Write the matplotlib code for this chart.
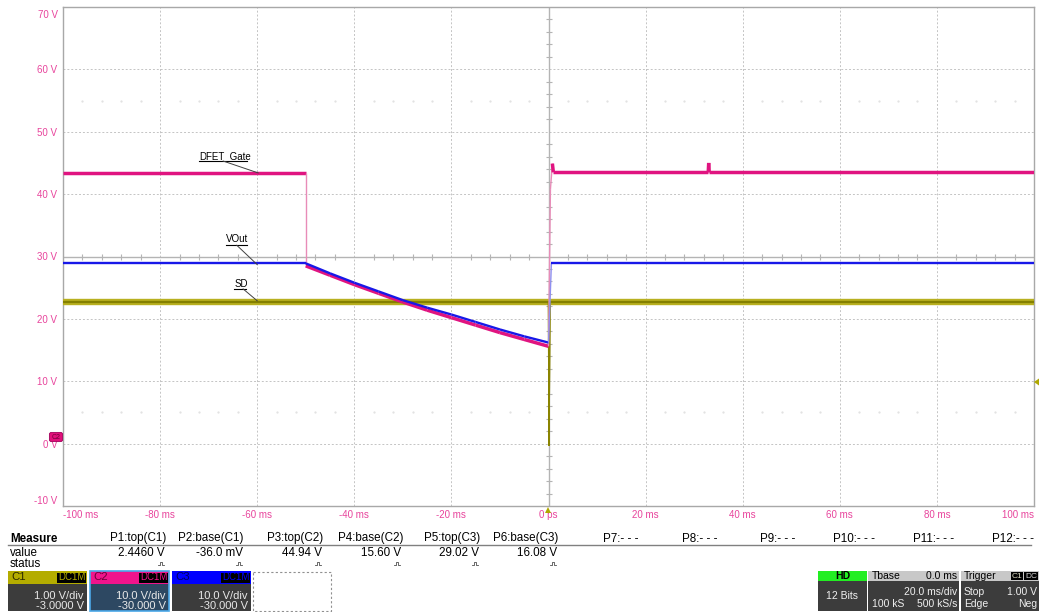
import matplotlib
matplotlib.use("Agg")
import matplotlib.pyplot as plt
from matplotlib.patches import Rectangle, Polygon, FancyBboxPatch
from matplotlib.collections import LineCollection
import numpy as np

plt.rcParams['font.family'] = ['Liberation Sans', 'DejaVu Sans']

# --- traces (time in ms, volts) ---
gate_t = [-100, -50, -50, -45, -40, -35, -30, -25, -20, -15, -10, -5, 0, 0.4, 0.8, 1.0, 32.9, 33.0, 33.1, 100]
gate_v = [43.4, 43.4, 28.5, 27.0, 25.5, 24.1, 22.7, 21.4, 20.2, 19.0, 17.8, 16.7, 15.6, 40.8, 44.9, 43.5, 43.5, 45.0, 43.5, 43.5]

vout_t = [-100, -50, -45, -40, -35, -30, -25, -20, -15, -10, -5, 0, 0.6, 100]
vout_v = [28.9, 28.9, 27.3, 25.8, 24.4, 23.0, 21.8, 20.7, 19.5, 18.3, 17.2, 16.2, 28.9, 28.9]

sd_t = [-100, 0, 0.1, 0.3, 100]
sd_v = [2.27, 2.27, -0.036, 2.27, 2.27]

# channel settings: volts/div, offset
ch_scale = {"C1": (1.0, -3.0), "C2": (10.0, -30.0), "C3": (10.0, -30.0)}

x_ticks = list(range(-100, 101, 20))
x_labels = ["%d ms" % t for t in x_ticks]
x_labels[5] = "0 ps"
y_ticks = list(range(-10, 71, 10))
y_labels = ["%d V" % v for v in y_ticks]

meas_names = ["P1:top(C1)", "P2:base(C1)", "P3:top(C2)", "P4:base(C2)", "P5:top(C3)", "P6:base(C3)"]
meas_values = ["2.4460 V", "-36.0 mV", "44.94 V", "15.60 V", "29.02 V", "16.08 V"]
empty_names = ["P7:- - -", "P8:- - -", "P9:- - -", "P10:- - -", "P11:- - -", "P12:- - -"]

channels = ["C1", "C2", "C3"]
ch_vdiv = ["1.00 V/div", "10.0 V/div", "10.0 V/div"]
ch_offset = ["-3.0000 V", "-30.000 V", "-30.000 V"]

LABEL_PINK = "#e8449c"
W, H = 1039, 612


def to_screen(ch, volts):
    # map channel volts onto the C2 labelled grid
    vdiv, off = ch_scale[ch]
    return [30 + 10 * (v + off) / vdiv for v in volts]


def trace(ax, t, v, color, lw, edge_color, z):
    pts = np.column_stack([t, v])
    segs = [pts[i:i + 2] for i in range(len(pts) - 1)]
    widths, colors = [], []
    for s in segs:
        fast = abs(s[1, 0] - s[0, 0]) < 1.5 and abs(s[1, 1] - s[0, 1]) > 3
        widths.append(1.0 if fast else lw)
        colors.append(edge_color if fast else color)
    ax.add_collection(LineCollection(segs, linewidths=widths, colors=colors,
                                     zorder=z, capstyle='butt', joinstyle='miter'))


fig = plt.figure(figsize=(W / 100, H / 100), dpi=100)
ax = fig.add_axes([63 / W, 106 / H, 971 / W, 499 / H])
ax.set_xlim(-100, 100)
ax.set_ylim(-10, 70)

ax.set_xticks(x_ticks)
ax.set_xticklabels(x_labels)
ax.set_yticks(y_ticks)
ax.set_yticklabels(y_labels[:-1] + [""])
ax.tick_params(length=0, labelsize=7, labelcolor=LABEL_PINK)
ax.tick_params(axis='x', pad=3)
ax.tick_params(axis='y', pad=4)
xl = ax.get_xticklabels()
xl[0].set_ha('left')
xl[-1].set_ha('right')
ax.get_yticklabels()[0].set_va('bottom')

for s in ax.spines.values():
    s.set_color('#a8a8a8')
    s.set_linewidth(1)

ax.grid(True, color='#c4c4c4', linestyle=(0, (2, 2)), linewidth=0.7)
ax.set_axisbelow(True)

# centre crosshair with minor ticks
ax.axhline(30, color='#b4b4b4', lw=1, zorder=1)
ax.axvline(0, color='#b4b4b4', lw=1, zorder=1)
hx = [x for x in np.arange(-100, 101, 4) if x % 20]
ax.plot(hx, [30] * len(hx), ls='none', marker='|', ms=5, mew=0.8, color='#b4b4b4', zorder=1)
vy = [y for y in np.arange(-10, 71, 2) if y % 10]
ax.plot([0] * len(vy), vy, ls='none', marker='_', ms=5, mew=0.8, color='#b4b4b4', zorder=1)
ax.plot(hx * 2, [55] * len(hx) + [5] * len(hx), ls='none', marker='s', ms=0.6, color='#e2e2e2', zorder=1)

# traces
sd_screen = to_screen("C1", sd_v)
trace(ax, sd_t, sd_screen, '#b8b020', 4.6, '#8a8400', 3)
trace(ax, sd_t, sd_screen, '#848000', 1.6, '#8a8400', 3.1)
trace(ax, gate_t, to_screen("C2", gate_v), '#e01480', 2.5, '#e88cb8', 4)
trace(ax, vout_t, to_screen("C3", vout_v), '#1818e8', 1.7, '#9090f0', 5)

# trace labels with leader lines
labels = [("DFET_Gate", (-72.0, 46.1), 247, (-67.0, 45.3), (-59.8, 43.4), 45.3),
          ("VOut", (-66.4, 32.8), 247, (-64.2, 31.8), (-60.0, 28.7), 31.8),
          ("SD", (-64.7, 25.6), 246, (-62.9, 24.8), (-60.0, 22.9), 24.8)]
for text, pos, ul_px, start, end, uy in labels:
    ax.text(pos[0], pos[1], text, fontsize=7, ha='left', va='center', zorder=6)
    x_end = (ul_px - 548.5) / 4.855
    ax.plot([pos[0], x_end], [uy, uy], color='black', lw=0.8, zorder=6)
    ax.plot([start[0], end[0]], [start[1], end[1]], color='#404040', lw=0.7, zorder=6)

# --- overlay in pixel coordinates for the scope panels ---
ov = fig.add_axes([0, 0, 1, 1], zorder=5)
ov.set_xlim(0, W)
ov.set_ylim(H, 0)
ov.axis('off')
ov.patch.set_alpha(0)

ov.text(58, 15, y_labels[-1], fontsize=7, ha='right', va='center', color=LABEL_PINK)

# C2 offset marker and trigger markers
ov.add_patch(FancyBboxPatch((50, 433), 12, 8, boxstyle="round,pad=0.6,rounding_size=2",
                            fc='#e0107a', ec='#a0005a', lw=0.6))
ov.text(56, 437.5, "C2", fontsize=5, ha='center', va='center', color='#70003a')
ov.add_patch(Polygon([(545, 513), (551, 513), (548, 507)], closed=True, fc='#b0a800', ec='none'))
ov.add_patch(Polygon([(1034, 382), (1039, 378.5), (1039, 385.5)], closed=True, fc='#b0a800', ec='none'))

# measure table
fs = 8.4
ov.text(10, 538.5, "Measure", fontsize=fs, fontweight='bold', va='center', ha='left')
ov.plot([8, 1031], [544.5, 544.5], color='#808080', lw=1)
ov.text(10, 553, "value", fontsize=fs, va='center', ha='left')
ov.text(10, 564, "status", fontsize=fs, va='center', ha='left')
name_right = [166, 243, 323, 403, 480, 558]
value_right = [165, 243, 322, 401, 479, 557]
for name, val, xr, xv in zip(meas_names, meas_values, name_right, value_right):
    ov.text(xr, 538.5, name, fontsize=fs, va='center', ha='right')
    ov.text(xv, 553, val, fontsize=fs, va='center', ha='right')
    x0 = xv - 7
    ov.plot([x0, x0 + 1.5, x0 + 1.5, x0 + 4, x0 + 4, x0 + 5.5],
            [565, 565, 561.5, 561.5, 565, 565], color='#505050', lw=0.6)
for name, x_left in zip(empty_names, [603, 682, 760, 833, 913, 992]):
    ov.text(x_left, 538.5, name, fontsize=fs, va='center', ha='left')

# channel boxes
box_x = [8, 90, 172]
head_col = ['#b4ac00', '#f0148c', '#0000ff']
head_txt = ['#2a2800', '#6a0038', '#00005a']
body_col = ['#3c3c3c', '#2d4862', '#3c3c3c']
for i, ch in enumerate(channels):
    x = box_x[i]
    w = 79
    ov.add_patch(Rectangle((x, 571), w, 13, fc=head_col[i], ec='none'))
    ov.add_patch(Rectangle((x, 584), w, 27, fc=body_col[i], ec='none'))
    ov.text(x + 3, 577.5, ch, fontsize=8.2, va='center', ha='left', color=head_txt[i])
    ov.add_patch(Rectangle((x + w - 30, 572.5), 29, 10, fc='black', ec='none'))
    ov.text(x + w - 15.5, 577.5, "DC1M", fontsize=7, va='center', ha='center', color=head_col[i])
    ov.text(x + w - 3, 596, ch_vdiv[i], fontsize=8, va='center', ha='right', color='#e8e8e8')
    ov.text(x + w - 3, 606, ch_offset[i], fontsize=8, va='center', ha='right', color='#e8e8e8')
ov.add_patch(Rectangle((90, 571), 79, 40, fc='none', ec='#4aa8e8', lw=1.2))
ov.add_patch(Rectangle((252.5, 571.5), 78.5, 39, fc='none', ec='#909090', lw=0.8, ls=(0, (2, 2))))

# acquisition / timebase / trigger boxes
ov.add_patch(Rectangle((818, 571), 49, 10, fc='#22ee22', ec='none'))
ov.add_patch(Rectangle((818, 581), 49, 30, fc='#3c3c3c', ec='none'))
ov.text(842.5, 576, "HD", fontsize=7.5, fontweight='bold', va='center', ha='center')
ov.text(842.5, 596, "12 Bits", fontsize=7.5, va='center', ha='center', color='#f0f0f0')

ov.add_patch(Rectangle((868, 571), 91, 10, fc='#c8c8c8', ec='none'))
ov.add_patch(Rectangle((868, 581), 91, 30, fc='#3c3c3c', ec='none'))
ov.text(872, 576, "Tbase", fontsize=7.5, va='center', ha='left')
ov.text(957, 576, "0.0 ms", fontsize=7.5, va='center', ha='right')
ov.text(957, 592, "20.0 ms/div", fontsize=7.5, va='center', ha='right', color='#f0f0f0')
ov.text(872, 604, "100 kS", fontsize=7.5, va='center', ha='left', color='#f0f0f0')
ov.text(957, 604, "500 kS/s", fontsize=7.5, va='center', ha='right', color='#f0f0f0')

ov.add_patch(Rectangle((961, 571), 78, 10, fc='#c8c8c8', ec='none'))
ov.add_patch(Rectangle((961, 581), 78, 30, fc='#3c3c3c', ec='none'))
ov.text(964, 576, "Trigger", fontsize=7.5, va='center', ha='left')
ov.add_patch(Rectangle((1011, 572), 12, 8, fc='black', ec='none'))
ov.text(1017, 576, "C1", fontsize=6, va='center', ha='center', color='#d8d8c0')
ov.add_patch(Rectangle((1024, 572), 14, 8, fc='black', ec='none'))
ov.text(1031, 576, "DC", fontsize=6, va='center', ha='center', color='#d8d8d8')
ov.text(964, 592, "Stop", fontsize=7.5, va='center', ha='left', color='#f0f0f0')
ov.text(1037, 592, "1.00 V", fontsize=7.5, va='center', ha='right', color='#f0f0f0')
ov.text(964, 604, "Edge", fontsize=7.5, va='center', ha='left', color='#f0f0f0')
ov.text(1037, 604, "Neg", fontsize=7.5, va='center', ha='right', color='#f0f0f0')

fig.savefig("out.png", dpi=100)
